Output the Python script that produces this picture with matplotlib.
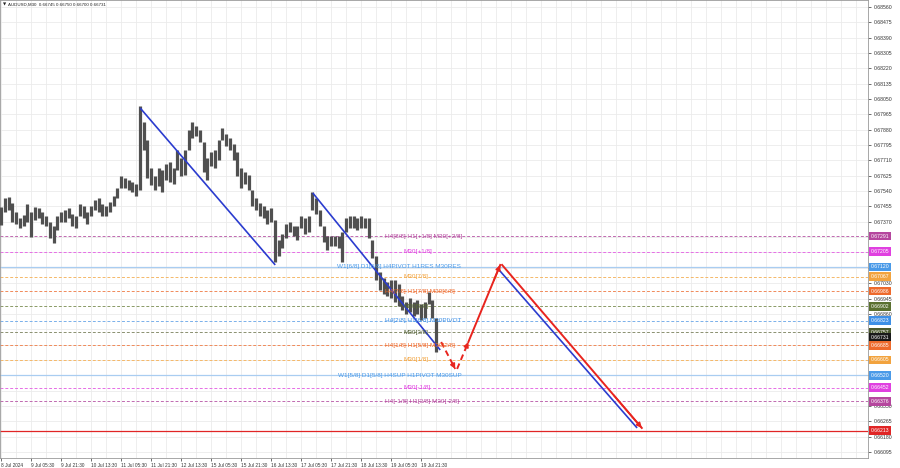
import matplotlib.pyplot as plt
import numpy as np
from matplotlib.transforms import blended_transform_factory

# --- chart data (AUDUSD M30), one high/low pair per 2-hour slot ---
SLOT = 4  # M30 bars per slot

bar_hi = [0.67452, 0.67502, 0.67507, 0.67474, 0.67424, 0.67391, 0.67408, 0.67469, 0.67424, 0.67452,
          0.67446, 0.67424, 0.67402, 0.67369, 0.67347, 0.67402, 0.67424, 0.67435, 0.67446, 0.67413,
          0.67402, 0.67469, 0.67458, 0.67424, 0.67458, 0.67491, 0.67502, 0.67469, 0.67458, 0.67480,
          0.67513, 0.67557, 0.67624, 0.67613, 0.67602, 0.67591, 0.67579, 0.68012, 0.67923, 0.67823,
          0.67668, 0.67624, 0.67668, 0.67657, 0.67690, 0.67701, 0.67668, 0.67768, 0.67723, 0.67768,
          0.67879, 0.67923, 0.67901, 0.67879, 0.67812, 0.67723, 0.67757, 0.67768, 0.67823, 0.67890,
          0.67856, 0.67834, 0.67801, 0.67757, 0.67668, 0.67646, 0.67629, 0.67546, 0.67502, 0.67474,
          0.67458, 0.67435, 0.67446, 0.67380, 0.67269, 0.67302, 0.67358, 0.67369, 0.67347, 0.67347,
          0.67402, 0.67391, 0.67402, 0.67535, 0.67502, 0.67435, 0.67347, 0.67291, 0.67291, 0.67291,
          0.67291, 0.67314, 0.67391, 0.67402, 0.67402, 0.67391, 0.67402, 0.67391, 0.67391, 0.67269,
          0.67181, 0.67092, 0.67059, 0.67037, 0.67048, 0.67048, 0.67025, 0.66959, 0.66926, 0.66948,
          0.66926, 0.66937, 0.66915, 0.66926, 0.66981, 0.66937, 0.66837]
bar_lo = [0.67352, 0.67424, 0.67435, 0.67369, 0.67358, 0.67336, 0.67347, 0.67369, 0.67286, 0.67380,
          0.67391, 0.67358, 0.67347, 0.67280, 0.67253, 0.67325, 0.67369, 0.67369, 0.67391, 0.67347,
          0.67336, 0.67402, 0.67391, 0.67358, 0.67402, 0.67435, 0.67424, 0.67402, 0.67402, 0.67424,
          0.67458, 0.67502, 0.67557, 0.67557, 0.67546, 0.67535, 0.67513, 0.67546, 0.67768, 0.67613,
          0.67574, 0.67546, 0.67568, 0.67535, 0.67602, 0.67591, 0.67579, 0.67657, 0.67624, 0.67629,
          0.67768, 0.67834, 0.67845, 0.67812, 0.67646, 0.67602, 0.67679, 0.67668, 0.67712, 0.67823,
          0.67790, 0.67768, 0.67712, 0.67624, 0.67557, 0.67579, 0.67546, 0.67458, 0.67435, 0.67402,
          0.67391, 0.67358, 0.67369, 0.67147, 0.67181, 0.67225, 0.67280, 0.67314, 0.67291, 0.67269,
          0.67336, 0.67302, 0.67314, 0.67435, 0.67413, 0.67347, 0.67258, 0.67214, 0.67236, 0.67236,
          0.67225, 0.67147, 0.67314, 0.67336, 0.67336, 0.67325, 0.67336, 0.67336, 0.67280, 0.67170,
          0.67048, 0.66992, 0.66970, 0.66959, 0.66948, 0.66926, 0.66904, 0.66881, 0.66859, 0.66870,
          0.66848, 0.66859, 0.66826, 0.66837, 0.66915, 0.66837, 0.66649]

last_price = 0.66731
title_text = "AUDUSD,M30  0.66745 0.66750 0.66700 0.66731"

date_labels = ["8 Jul 2024", "9 Jul 05:30", "9 Jul 21:30", "10 Jul 13:30", "11 Jul 05:30",
               "11 Jul 21:30", "12 Jul 13:30", "15 Jul 05:30", "15 Jul 21:30", "16 Jul 13:30",
               "17 Jul 05:30", "17 Jul 21:30", "18 Jul 13:30", "19 Jul 05:30", "19 Jul 21:30"]

price_ticks = [0.68560, 0.68475, 0.68390, 0.68305, 0.68220, 0.68135, 0.68050, 0.67965, 0.67880,
               0.67795, 0.67710, 0.67625, 0.67540, 0.67455, 0.67370, 0.67285, 0.67200, 0.67115,
               0.67030, 0.66945, 0.66860, 0.66775, 0.66690, 0.66605, 0.66520, 0.66435, 0.66350,
               0.66265, 0.66180, 0.66095]

# Murrey-math style levels
level_price = [0.67291, 0.67205, 0.67120, 0.67067, 0.66986, 0.66902, 0.66823,
               0.66757, 0.66685, 0.66605, 0.66520, 0.66452, 0.66376, 0.66213]
level_text = ["H4[8/8] H1[+1/8] M30[+2/8]", "M30[+1/8]", "W1[6/8] D1[6/8] H4PIVOT H1RES M30RES",
              "M30[7/8]", "H4[7/8] H1[7/8] M30[6/8]", "M30[5/8]", "H4[2/8] H1[6/8] M30PIVOT",
              "M30[3/8]", "H4[1/8] H1[5/8] M30[2/8]", "M30[1/8]", "W1[5/8] D1[5/8] H4SUP H1PIVOT M30SUP",
              "M30[-1/8]", "H4[-1/8] H1[3/8] M30[-2/8]", ""]

# trend lines / projection (bar index, price)
blue_t = [[150, 294], [334, 470], [531, 680]]
blue_p = [[0.68000, 0.67131], [0.67530, 0.66660], [0.67114, 0.66228]]
red_t = [[471, 486], [488, 500], [500, 534], [536, 685]]
red_p = [[0.66704, 0.66555], [0.66555, 0.66704], [0.66704, 0.67131], [0.67131, 0.66228]]

# --- styles ---
level_color = ["#b5479e", "#e040e0", "#4a9ae8", "#f2a33e", "#ee6a2c", "#5a7030", "#3d8fe6",
               "#4b5a2e", "#ee6a2c", "#f2a33e", "#4a9ae8", "#e040e0", "#b5479e", "#e02525"]
line_color = ["#c06ab0", "#e66ee6", "#a9cdf1", "#f5b868", "#f08a5a", "#8a9a66", "#7ab0ea",
              "#8a9070", "#f08a5a", "#f5b868", "#a9cdf1", "#e66ee6", "#c06ab0", "#e02525"]
label_left_px = [385, 404, 337, 404, 385, 404, 385, 404, 385, 404, 338, 404, 385, 0]
solid_levels = {2, 10, 13}

PX_PER_BAR = 0.9375
AX_W_PX = 868
x_left = 0.43
x_right = x_left + AX_W_PX / PX_PER_BAR
y_top = 0.685988
y_bot = 0.660615

plt.rcParams['font.family'] = ['Liberation Sans', 'DejaVu Sans']
fig = plt.figure(figsize=(9, 4.68), dpi=100)
ax = fig.add_axes([0, 10 / 468, AX_W_PX / 900, 458 / 468])
ax.set_xlim(x_left, x_right)
ax.set_ylim(y_bot, y_top)

# grid
for gx in np.arange(1.5, x_right, 16):
    ax.axvline(gx, color="#ebebeb", lw=0.6, zorder=0)
for py in price_ticks:
    ax.axhline(py, color="#ebebeb", lw=0.6, zorder=0)

# levels
trans = blended_transform_factory(ax.transAxes, ax.transData)
for i, lv in enumerate(level_price):
    if i in solid_levels:
        ax.axhline(lv, color=line_color[i], lw=0.9, zorder=1)
    else:
        ax.axhline(lv, color=line_color[i], lw=0.7, dashes=(3, 2), zorder=1)
    if level_text[i]:
        ax.text(label_left_px[i] / AX_W_PX, lv, level_text[i], transform=trans,
                ha="left", va="center", fontsize=4.6, color=level_color[i], zorder=6)
    ax.text(1.003, lv, f"{lv:.5f}", transform=trans, ha="left", va="center",
            fontsize=3.7, color="white", zorder=8, clip_on=False,
            bbox=dict(boxstyle="square,pad=0.35", fc=level_color[i], ec="none"))
ax.text(1.003, last_price, f"{last_price:.5f}", transform=trans, ha="left", va="center",
        fontsize=3.7, color="white", zorder=9, clip_on=False,
        bbox=dict(boxstyle="square,pad=0.35", fc="#1a1a1a", ec="none"))

# price bars
bx = np.arange(len(bar_hi)) * SLOT + 1.5
ax.vlines(bx, bar_lo, bar_hi, color="#505050", lw=2.3, zorder=3)

# trend lines
for t, p in zip(blue_t, blue_p):
    ax.plot(t, p, color="#2b3ccf", lw=1.2, zorder=4, solid_capstyle="butt")
for k, (t, p) in enumerate(zip(red_t, red_p)):
    style = (0, (3, 2)) if k < 2 else "-"
    ax.plot(t, p, color="#e8241e", lw=1.4, ls=style, zorder=5)
    tail = (t[0] + 0.8 * (t[1] - t[0]), p[0] + 0.8 * (p[1] - p[0]))
    ax.annotate("", xy=(t[1], p[1]), xytext=tail,
                arrowprops=dict(arrowstyle="-|>", color="#e8241e", lw=1.2,
                                mutation_scale=7, shrinkA=0, shrinkB=0), zorder=5)

# axes: price labels hidden behind level boxes are left out, as in the terminal
shown_ticks = [v for v in price_ticks
               if min(abs(v - lv) for lv in level_price + [last_price]) > 0.0002]
ax.yaxis.tick_right()
ax.set_yticks(price_ticks)
ax.set_yticklabels([f"{v:.5f}" if v in shown_ticks else "" for v in price_ticks])
ax.set_xticks([1.5 + 32 * i for i in range(len(date_labels))])
ax.set_xticklabels(date_labels)
for lab in ax.get_xticklabels():
    lab.set_horizontalalignment("left")
ax.tick_params(axis="y", labelsize=3.7, length=2, width=0.5, pad=2.5, colors="#333333")
ax.tick_params(axis="x", labelsize=3.4, length=2, width=0.5, pad=1.5, colors="#333333")
for s in ax.spines.values():
    s.set_color("#999999")
    s.set_linewidth(0.6)

fig.text(3 / 900, 1 - 5 / 468, "\u25BC", fontsize=3, va="center", ha="left", color="#222222",
         family="DejaVu Sans")
fig.text(8 / 900, 1 - 5 / 468, title_text, fontsize=3.2, va="center", ha="left", color="#222222")

fig.savefig("out.png", dpi=100)
